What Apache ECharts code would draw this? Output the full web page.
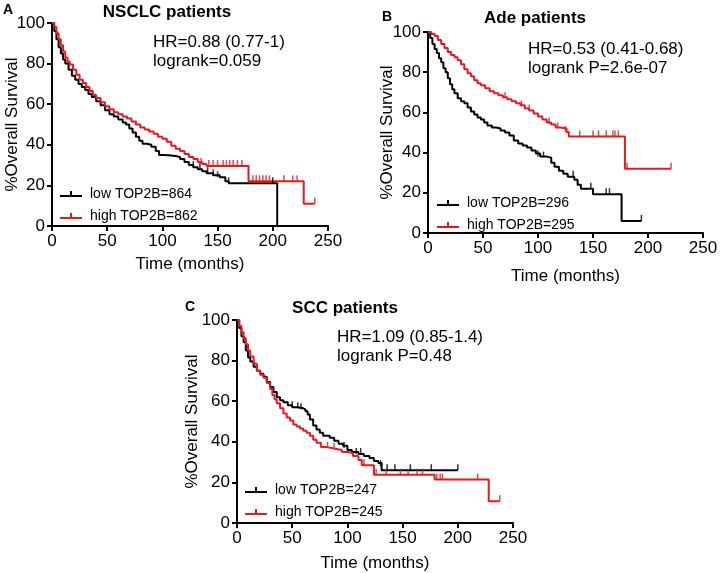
<!DOCTYPE html>
<html>
<head>
<meta charset="utf-8">
<script src="https://cdn.jsdelivr.net/npm/echarts@6/dist/echarts.min.js"></script>
<style>
  html, body { margin: 0; padding: 0; background: #fff; }
  #chart { width: 720px; height: 573px; }
</style>
</head>
<body>
<div id="chart"></div>
<script>
// survival curves: [months, % surviving]
const xTicks = [0, 50, 100, 150, 200, 250];
const yTicks = [0, 20, 40, 60, 80, 100];

const nsclcLow = [[0,100],[2,96],[4,92],[6,88],[8,85],[10,82],[12,80],[15,77],[18,74],[21,72],[24,70],[27,68.5],[30,67],[33,65],[36,63.5],[40,61.5],[44,59.5],[48,57],[52,55],[56,54],[60,52.5],[64,51],[67,50],[70,48],[73,46],[76,44],[79,42],[82,40.5],[86,40],[90,39],[94,37],[97,35],[102,34.7],[108,34.5],[112,34],[116,33],[120,31.5],[124,30],[128,29],[132,28],[136,27],[140,26],[146,25],[152,24],[157,22],[160,21],[204,0]];
const nsclcHigh = [[0,100],[2,98],[4,95],[6,92],[8,89],[10,86],[12,83],[14,81],[16,79.5],[19,77],[22,74.5],[25,72],[28,70.5],[31,68.5],[34,66.5],[37,64.5],[40,63],[44,61],[48,59],[52,57.5],[56,56],[60,55],[64,54],[68,53],[72,51.5],[76,50],[80,48.5],[84,47.5],[88,46.5],[92,45.5],[96,44],[100,43],[104,41.5],[108,39.5],[112,38],[116,37],[120,35.5],[124,34],[128,33],[132,31.5],[136,30.5],[140,29.5],[178,22],[228,11],[238,11]];
const nsclcLowCens = [[128,29],[134,28],[141,26],[146,25],[150,24],[160,21],[200,21]];
const nsclcHighCens = [[135,30.5],[142,29.5],[146,29.5],[150,29.5],[155,29.5],[158,29.5],[161,29.5],[164,29.5],[168,29.5],[172,29.5],[182,22],[185,22],[188,22],[191,22],[194,22],[197,22],[210,22],[218,22],[222,22],[238,11]];

const adeLow = [[0,100],[2,97],[4,94],[6,91.5],[8,89.5],[10,87],[12,85],[14,82],[16,80],[18,77],[20,74],[22,71.5],[24,69.5],[27,67],[30,65.5],[33,64.5],[36,62.5],[39,60.5],[42,59],[45,57.5],[48,56.5],[51,55],[54,53.5],[58,52.5],[62,52],[66,51],[70,50],[74,48.5],[78,46],[82,44.5],[86,43.5],[90,42.5],[94,41],[98,39.5],[102,38],[108,37.5],[112,35],[115,33],[119,31],[123,29.5],[127,28],[133,26.5],[136,24],[139,22],[150,19.3],[176,6],[194,6]];
const adeHigh = [[0,100],[3,99],[6,98],[9,96],[12,94],[15,92],[18,90],[21,88.5],[24,87.5],[27,86],[30,84],[33,81.5],[36,79.5],[39,78],[42,76],[45,74.5],[48,73.5],[52,72],[56,70.5],[60,69.5],[64,68.5],[68,67.5],[72,66.5],[76,65.5],[80,64.5],[84,63.5],[88,62],[92,61],[96,59.5],[100,58],[104,56.5],[108,55],[112,54],[116,52.5],[120,52],[126,50.3],[128,48],[179,32],[221,32]];
const adeLowCens = [[100,38],[105,37.5],[132,28],[148,22],[162,19.3],[165,19.3],[194,6]];
const adeHighCens = [[70,67],[85,63],[92,61],[110,54.5],[118,52],[125,50.3],[138,48],[150,48],[155,48],[162,48],[168,48],[170,48],[173,48],[181,32],[221,32]];

const sccLow = [[0,100],[2,96],[4,92],[6,89],[8,85],[10,81.5],[12,79.5],[15,77],[18,75],[21,73.5],[24,72],[27,69.5],[30,67],[33,64.5],[36,62],[39,60.5],[42,59.5],[46,58],[50,57],[55,56.5],[60,56],[62,55],[64,53.5],[66,51],[69,48],[72,46],[75,44.5],[78,43],[84,42],[88,40.5],[92,39],[96,38],[100,36],[104,35],[110,34],[115,33],[120,32],[124,30.5],[128,29.5],[131,26],[200,26]];
const sccHigh = [[0,100],[2,97],[4,94],[6,91],[8,88],[10,85],[12,82],[15,78.5],[18,75],[21,73],[24,71.5],[27,69],[30,66],[32,63],[34,61],[36,59],[39,56.5],[42,54],[45,52],[48,50.5],[51,48.5],[54,47.5],[57,46.5],[60,45.5],[63,44.5],[66,43],[69,41],[72,39.5],[76,37.5],[80,37],[85,36.5],[90,36],[95,35],[100,34.5],[105,33],[110,31],[113,28.5],[124,23.8],[179,21.4],[228,10.7],[238,10.7]];
const sccLowCens = [[50,57],[55,56.5],[58,56],[97,37],[108,34],[112,34],[130,28],[136,26],[143,26],[157,26],[176,26],[200,26]];
const sccHighCens = [[82,37],[88,36.5],[115,28.5],[126,23.8],[135,23.8],[148,23.8],[155,23.8],[163,23.8],[168,23.8],[181,21.4],[184,21.4],[186,21.4],[218,21.4],[238,10.7]];

const panels = [
  { letter: 'A', title: 'NSCLC patients', hr: 'HR=0.88 (0.77-1)', p: 'logrank=0.059',
    low: nsclcLow, high: nsclcHigh, lowCens: nsclcLowCens, highCens: nsclcHighCens,
    lowName: 'low TOP2B=864', highName: 'high TOP2B=862',
    grid: { left: 52, top: 23, width: 276, height: 203 }, xGap: 30, yGap: 31,
    letterPos: [3, 10], titlePos: [167, 12], hrPos: [153, 42], legendPos: [55, 182] },
  { letter: 'B', title: 'Ade patients', hr: 'HR=0.53 (0.41-0.68)', p: 'logrank P=2.6e-07',
    low: adeLow, high: adeHigh, lowCens: adeLowCens, highCens: adeHighCens,
    lowName: 'low TOP2B=296', highName: 'high TOP2B=295',
    grid: { left: 428, top: 32, width: 275, height: 201 }, xGap: 35, yGap: 32,
    letterPos: [382, 17], titlePos: [535, 18], hrPos: [528, 49], legendPos: [432, 191] },
  { letter: 'C', title: 'SCC patients', hr: 'HR=1.09 (0.85-1.4)', p: 'logrank P=0.48',
    low: sccLow, high: sccHigh, lowCens: sccLowCens, highCens: sccHighCens,
    lowName: 'low TOP2B=247', highName: 'high TOP2B=245',
    grid: { left: 237, top: 320, width: 276, height: 203 }, xGap: 32, yGap: 36,
    letterPos: [185, 307], titlePos: [345, 308], hrPos: [337, 337], legendPos: [240, 478] }
];

const FONT = 'Liberation Sans, Arial, sans-serif';
const RED = '#e41a1c';
const BLACK = '#000';
const legendIcon = 'path://M0,5H22V7H0Z M10,1H12V5H10Z';

function initChart() {
  const chart = echarts.init(document.getElementById('chart'), null, { renderer: 'canvas' });
  const grids = [], xAxes = [], yAxes = [], series = [], legends = [], graphics = [];

  panels.forEach((pn, i) => {
    grids.push(Object.assign({ containLabel: false, outerBoundsMode: 'none' }, pn.grid));
    const axisCommon = {
      gridIndex: i,
      nameMoveOverlap: false,
      axisLine: { show: true, lineStyle: { color: BLACK, width: 2 } },
      axisTick: { show: true, length: 5, lineStyle: { color: BLACK, width: 2 } },
      axisLabel: { color: BLACK, fontSize: 17, fontFamily: FONT, margin: 7 },
      splitLine: { show: false },
      nameTextStyle: { color: BLACK, fontSize: 17, fontFamily: FONT }
    };
    xAxes.push(Object.assign({}, axisCommon, {
      type: 'value', min: xTicks[0], max: xTicks[xTicks.length - 1], interval: 50,
      name: 'Time (months)', nameLocation: 'middle', nameGap: pn.xGap
    }));
    yAxes.push(Object.assign({}, axisCommon, {
      type: 'value', min: yTicks[0], max: yTicks[yTicks.length - 1], interval: 20,
      name: '%Overall Survival', nameLocation: 'middle', nameGap: pn.yGap
    }));

    const lineCommon = { type: 'line', step: 'end', xAxisIndex: i, yAxisIndex: i, showSymbol: false, symbol: 'none', z: 3 };
    series.push(Object.assign({}, lineCommon, { name: pn.lowName, data: pn.low, lineStyle: { color: BLACK, width: 2 }, itemStyle: { color: BLACK } }));
    series.push(Object.assign({}, lineCommon, { name: pn.highName, data: pn.high, lineStyle: { color: RED, width: 2 }, itemStyle: { color: RED } }));
    const censCommon = { type: 'scatter', xAxisIndex: i, yAxisIndex: i, symbol: 'rect', symbolSize: [1.5, 6], symbolOffset: [0, -3], silent: true, z: 4 };
    series.push(Object.assign({}, censCommon, { name: pn.lowName + ' censored', data: pn.lowCens, itemStyle: { color: BLACK } }));
    series.push(Object.assign({}, censCommon, { name: pn.highName + ' censored', data: pn.highCens, itemStyle: { color: RED } }));

    legends.push({
      data: [pn.lowName, pn.highName],
      orient: 'vertical', left: pn.legendPos[0], top: pn.legendPos[1],
      icon: legendIcon, itemWidth: 22, itemHeight: 7, itemGap: 8,
      selectedMode: false,
      textStyle: { color: BLACK, fontSize: 14, fontFamily: FONT, padding: [0, 0, 0, 3] }
    });

    graphics.push(
      { type: 'text', x: pn.letterPos[0], y: pn.letterPos[1], style: { text: pn.letter, font: 'bold 14px ' + FONT, fill: BLACK, textVerticalAlign: 'middle' } },
      { type: 'text', x: pn.titlePos[0], y: pn.titlePos[1], style: { text: pn.title, font: 'bold 17px ' + FONT, fill: BLACK, textAlign: 'center', textVerticalAlign: 'middle' } },
      { type: 'text', x: pn.hrPos[0], y: pn.hrPos[1], style: { text: pn.hr, font: '17px ' + FONT, fill: BLACK, textVerticalAlign: 'middle' } },
      { type: 'text', x: pn.hrPos[0], y: pn.hrPos[1] + 19, style: { text: pn.p, font: '17px ' + FONT, fill: BLACK, textVerticalAlign: 'middle' } }
    );
  });

  chart.setOption({
    animation: false,
    backgroundColor: '#fff',
    grid: grids,
    xAxis: xAxes,
    yAxis: yAxes,
    legend: legends,
    series: series,
    graphic: graphics
  });
}

document.addEventListener('DOMContentLoaded', initChart);
</script>
</body>
</html>
